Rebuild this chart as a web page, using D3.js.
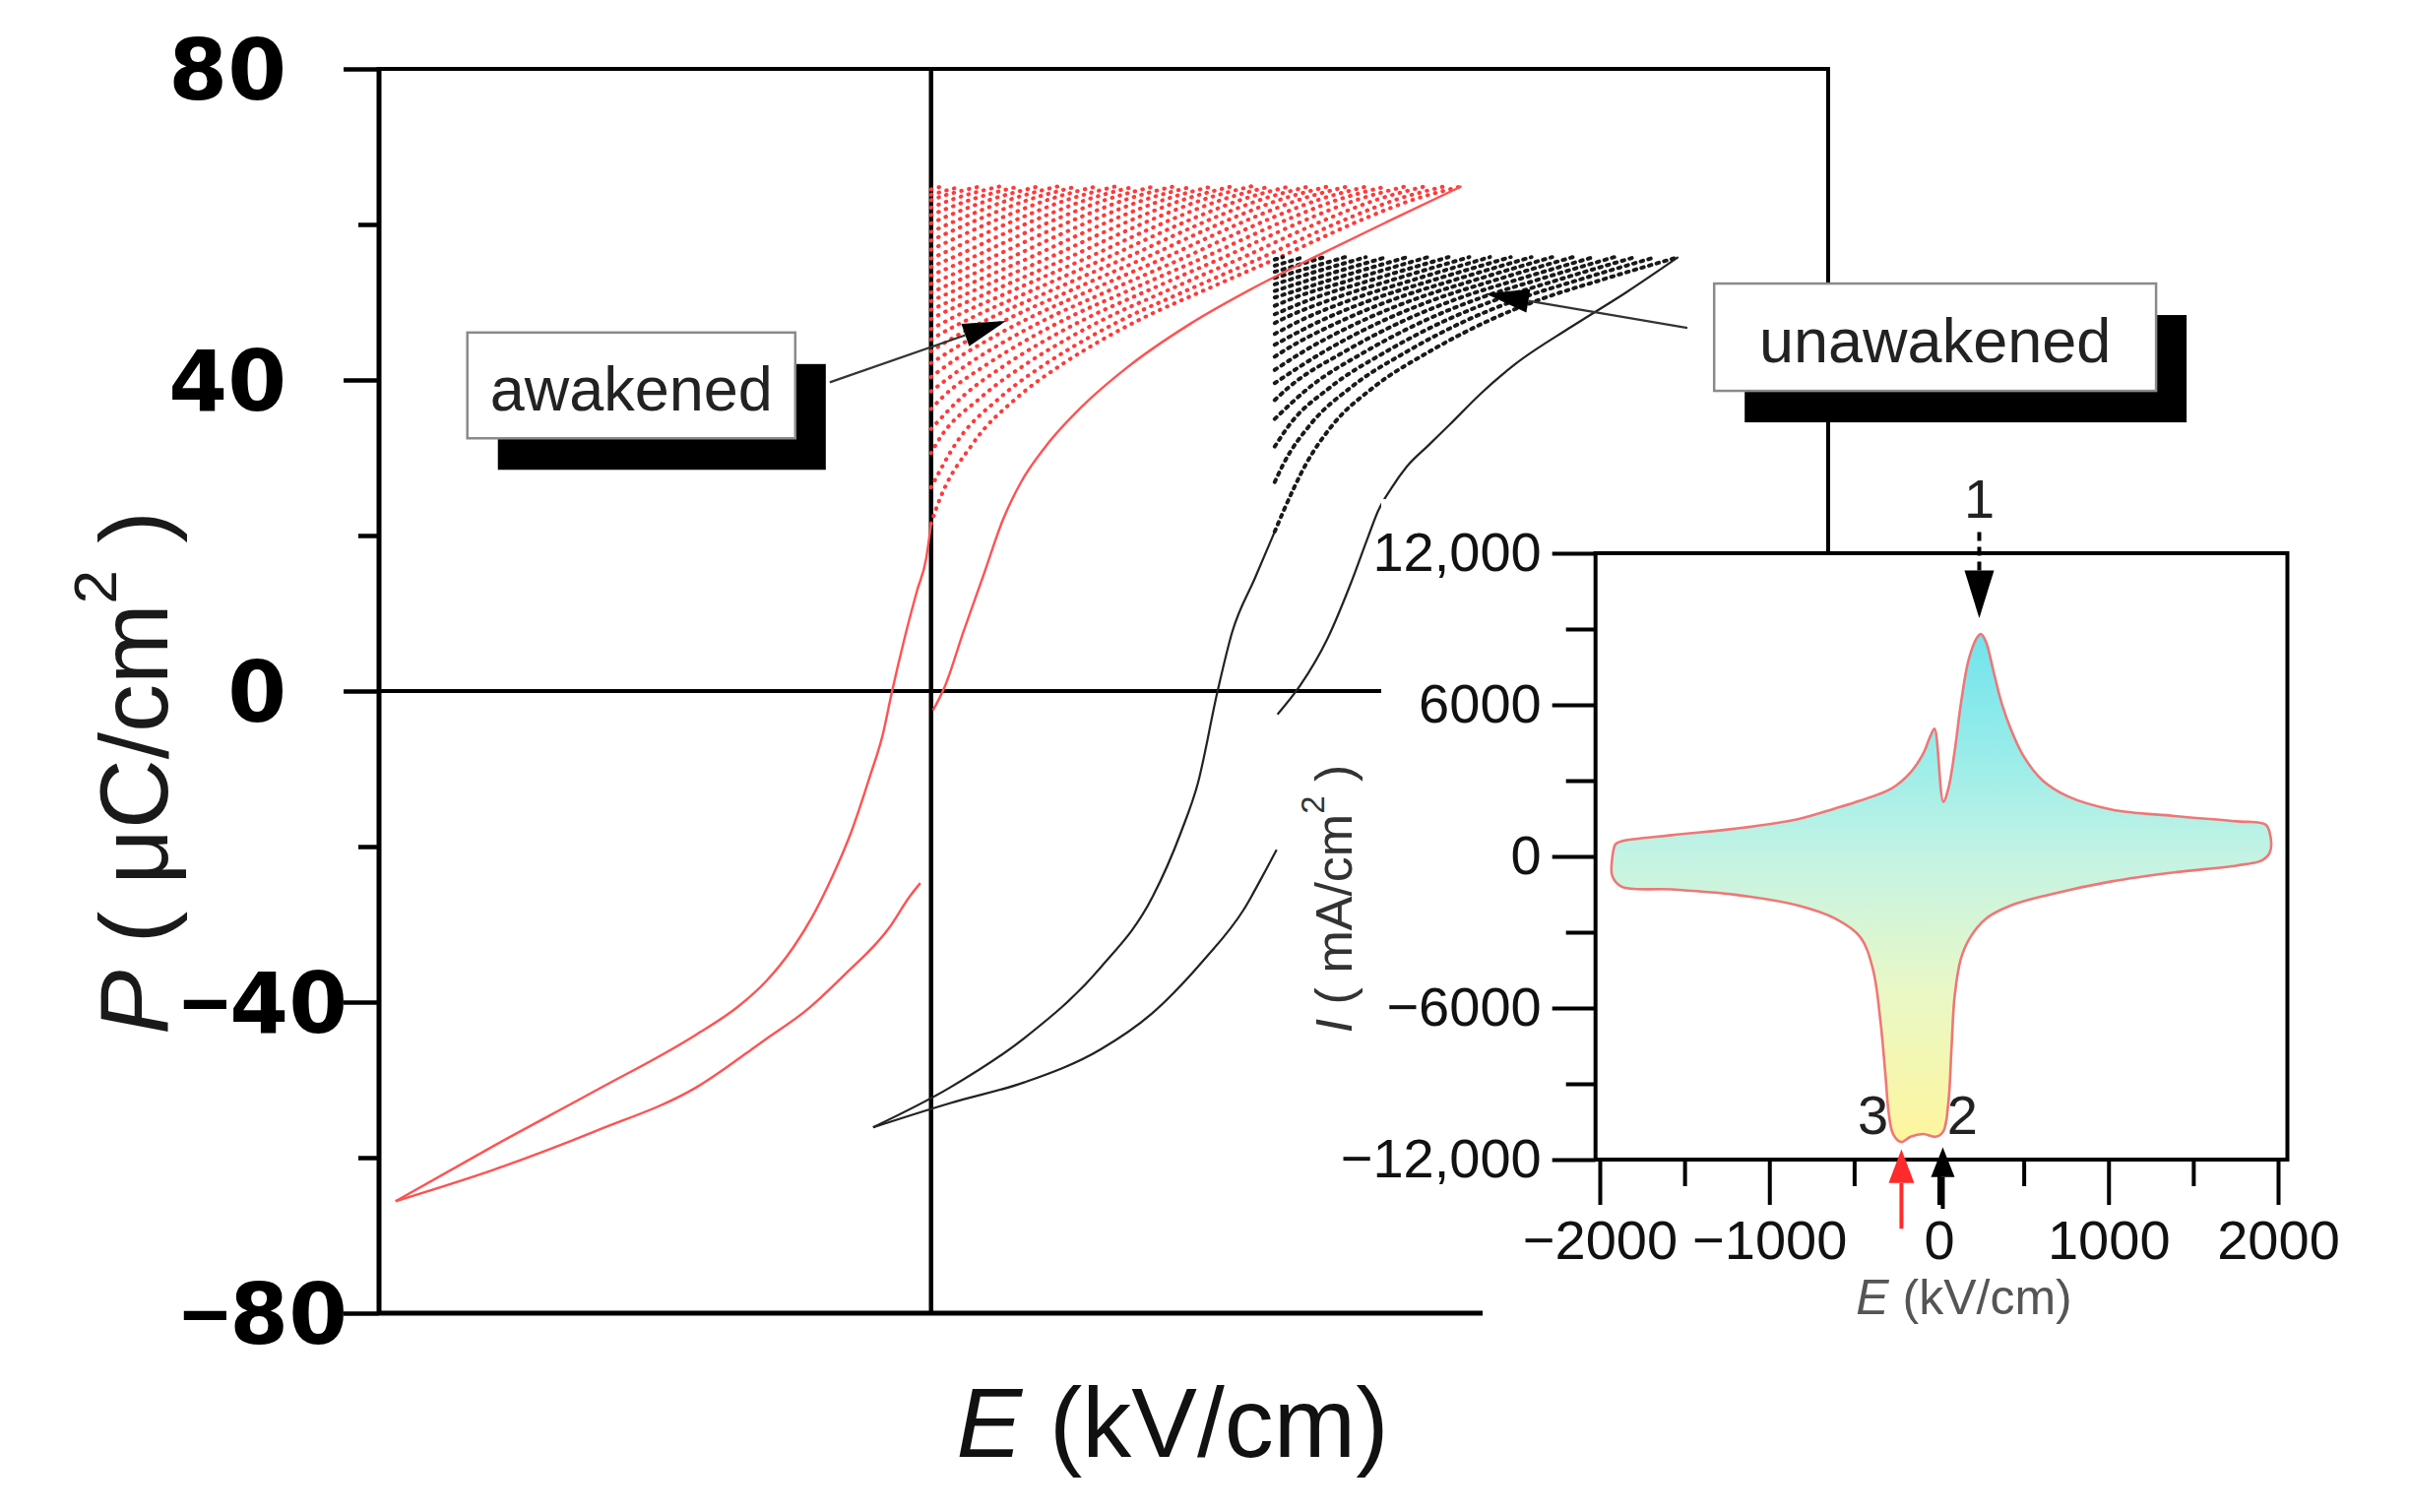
<!DOCTYPE html>
<html>
<head>
<meta charset="utf-8">
<script src="https://cdn.jsdelivr.net/npm/d3@7"></script>
<style>
  html, body { margin: 0; padding: 0; background: #fff; }
  svg { display: block; font-family: "Liberation Sans", Arial, sans-serif; }
</style>
</head>
<body>
<svg id="chart" width="2447" height="1536"></svg>
<script>
// ---- main P-E loops, [E (kV/cm), P (uC/cm2)] ----
const redRise = [[-1940, -65.6], [-1580, -58.4], [-1216, -51.4], [-852, -44.2], [-700, -40.6], [-600, -37.4],
  [-500, -33.0], [-430, -29.0], [-357, -23.8], [-289, -18.1], [-221, -10.9], [-175, -5.6], [-143, -0.3],
  [-96, 6.8], [-50, 13.0], [-18, 17.0], [0, 21.5]];
const redReturn = [[-1940, -65.6], [-1580, -61.5], [-1216, -56.6], [-852, -51.0], [-600, -44.8], [-450, -41.0],
  [-314, -36.5], [-153, -30.5], [-75, -26.3], [-39, -24.7]];
const redUpper = [[7, -2.5], [50, 0.6], [118, 7.7], [189, 14.8], [260, 22.0], [325, 26.8], [414, 31.4],
  [553, 36.8], [710, 41.6], [938, 47.2], [1166, 51.8], [1395, 55.9], [1650, 60.3], [1922, 64.9]];
const redEdge = [[0, 21.5], [18, 23.4], [153, 31.9], [314, 37.8], [474, 42.0], [631, 45.4], [792, 48.4],
  [949, 50.9], [1109, 53.4], [1270, 55.9], [1427, 58.5], [1587, 61.0], [1748, 63.2], [1922, 64.9]];
// E where each dotted red line meets the top of the fan
const redFanTops = [40, 110, 180, 250, 320, 390, 460, 530, 600, 670, 740, 810, 880, 950, 1020, 1090,
  1160, 1230, 1300, 1370, 1440, 1510, 1580, 1650, 1720, 1790, 1860];

const blackRise = [[-210, -56.1], [68, -51.0], [339, -44.6], [613, -35.6], [802, -26.5], [906, -18.1],
  [967, -11.8], [1038, 0], [1091, 7.6], [1173, 14.5], [1245, 20.5]];
const blackReturn = [[-210, -56.1], [68, -53.0], [339, -50.3], [613, -46.1], [799, -41.5], [988, -34.6],
  [1131, -28.2], [1213, -23.0], [1252, -20.4]];
const blackUpper = [[1255, -3.0], [1337, 0.7], [1437, 6.8], [1519, 13.7], [1584, 19.9], [1620, 23.2],
  [1666, 26.0], [1722, 28.8], [1802, 31.6], [1880, 34.3], [1990, 38.2], [2115, 42.0], [2318, 46.8],
  [2520, 51.3], [2707, 55.8]];
const blackEdge = [[1245, 20.5], [1275, 23.0], [1357, 29.1], [1459, 34.4], [1601, 39.0], [1808, 43.7],
  [2012, 47.5], [2218, 50.5], [2422, 52.8], [2707, 55.8]];
const blackFanTops = [1275, 1350, 1425, 1500, 1575, 1650, 1725, 1800, 1875, 1950, 2025, 2100, 2175,
  2250, 2325, 2400, 2475, 2550, 2625];

const pMajor = [-80, -40, 0, 40, 80];
const pMinor = [-60, -20, 20, 60];

// ---- inset I-E loop, [E (kV/cm), I (mA/cm2)] ----
const insetLoop = [[-1907, 484], [-1870, 600], [-1574, 842], [-1204, 1095], [-833, 1474], [-611, 1900],
  [-463, 2210], [-278, 2695], [-167, 3326], [-93, 4063], [-48, 4800], [-26, 5053], [26, 2168],
  [56, 2695], [93, 4168], [130, 6063], [174, 7747], [222, 8631], [248, 8800], [278, 8484], [322, 7326],
  [370, 6063], [426, 5010], [500, 3958], [611, 3010], [759, 2379], [1019, 1853], [1389, 1600],
  [1759, 1389], [1926, 1263], [1952, 905], [1952, 168], [1907, -147], [1759, -358], [1389, -632],
  [1019, -989], [648, -1516], [426, -1937], [278, -2463], [185, -3200], [130, -4042], [93, -5516],
  [74, -7621], [56, -9726], [26, -10884], [-19, -11095], [-93, -10989], [-167, -11095], [-222, -11305],
  [-270, -10989], [-296, -10147], [-315, -8674], [-344, -6568], [-389, -4463], [-463, -3200],
  [-611, -2463], [-833, -1937], [-1204, -1516], [-1574, -1305], [-1870, -1200], [-1926, -779], [-1926, -42]];
const iMajor = [-12000, -6000, 0, 6000, 12000];
const iMinor = [-9000, -3000, 3000, 9000];
const eMajor = [-2000, -1000, 0, 1000, 2000];
const eMinor = [-1500, -500, 500, 1500];

const svg = d3.select('#chart');
const x = d3.scaleLinear().domain([-2000, 3250]).range([385, 1857]);
const y = d3.scaleLinear().domain([-80, 80]).range([1334, 70]);
const xi = d3.scaleLinear().domain([-2000, 2000]).range([1625, 2314]);
const yi = d3.scaleLinear().domain([-12000, 12000]).range([1178, 562]);

const interp = (pts, e) => {
  const i = d3.bisector(d => d[0]).right(pts, e);
  if (i <= 0) return pts[0][1];
  if (i >= pts.length) return pts[pts.length - 1][1];
  const [e0, p0] = pts[i - 1], [e1, p1] = pts[i];
  return p0 + (p1 - p0) * (e - e0) / (e1 - e0);
};

/** a copy of the fan edge slid left so that its tip lands on topE, cut at the fan's left side */
const fanLine = (edge, topE) => {
  const leftE = edge[0][0];
  const s = edge[edge.length - 1][0] - topE;
  const pts = [[leftE, interp(edge, leftE + s)]];
  edge.forEach(([e, p]) => { if (e - s > leftE + 1) pts.push([e - s, p]); });
  return pts;
};

const line = d3.line().x(d => x(d[0])).y(d => y(d[1])).curve(d3.curveMonotoneX);

// ---- main frame ----
const frame = svg.append('g').attr('stroke', '#000');
frame.append('line').attr('x1', x(-2000)).attr('x2', x(-2000)).attr('y1', y(80) - 2).attr('y2', y(-80) + 2).attr('stroke-width', 5);
frame.append('line').attr('x1', x(-2000)).attr('x2', x(3250)).attr('y1', y(80)).attr('y2', y(80)).attr('stroke-width', 4);
frame.append('line').attr('x1', x(-2000)).attr('x2', x(3250)).attr('y1', y(-80)).attr('y2', y(-80)).attr('stroke-width', 5);
frame.append('line').attr('x1', x(0)).attr('x2', x(0)).attr('y1', y(80)).attr('y2', y(-80)).attr('stroke-width', 4.5);
frame.append('line').attr('x1', x(-2000)).attr('x2', x(3250)).attr('y1', y(0)).attr('y2', y(0)).attr('stroke-width', 4);

svg.append('g')
  .attr('transform', `translate(${x(-2000)},0)`)
  .call(d3.axisLeft(y).tickValues(pMinor).tickSize(21).tickFormat(''))
  .call(g => g.select('.domain').remove())
  .call(g => g.selectAll('line').attr('stroke-width', 4.5));

svg.append('g')
  .attr('transform', `translate(${x(-2000)},0)`)
  .call(d3.axisLeft(y).tickValues(pMajor).tickSize(36).tickFormat(d3.format('d')))
  .call(g => g.select('.domain').remove())
  .call(g => g.selectAll('line').attr('stroke-width', 4.5))
  .call(g => g.selectAll('text')
    .attr('x', d => d < 0 ? -32 : -94)
    .attr('dy', '0.36em')
    .attr('font-family', '"DejaVu Sans", sans-serif')
    .attr('font-weight', 'bold')
    .attr('font-size', 86)
    .attr('fill', '#000')
    .each(function (d) {
      // the figure's minus sign is narrower than DejaVu's
      const t = d3.select(this).text(null);
      if (d < 0) t.append('tspan').attr('font-family', '"Liberation Sans", Arial, sans-serif').text('\u2212');
      t.append('tspan').text(Math.abs(d));
    }));

// ---- dotted fans ----
const fans = svg.append('g').attr('fill', 'none').attr('stroke-linecap', 'round');
fans.selectAll('.red-fan')
  .data([redEdge, ...redFanTops.map(t => fanLine(redEdge, t))])
  .enter().append('path')
  .attr('d', line)
  .attr('stroke', '#ff3a3a')
  .attr('stroke-width', 4)
  .attr('stroke-dasharray', '0.6 7.4');
fans.selectAll('.black-fan')
  .data([blackEdge, ...blackFanTops.map(t => fanLine(blackEdge, t))])
  .enter().append('path')
  .attr('d', line)
  .attr('stroke', '#1a1a1a')
  .attr('stroke-width', 4)
  .attr('stroke-dasharray', '2.5 5.5');

// ---- solid loop branches ----
const loops = svg.append('g').attr('fill', 'none');
loops.selectAll('.red').data([redRise, redReturn, redUpper]).enter().append('path')
  .attr('d', line).attr('stroke', '#ff5252').attr('stroke-width', 2.4);
loops.selectAll('.black').data([blackRise, blackReturn, blackUpper]).enter().append('path')
  .attr('d', line).attr('stroke', '#222').attr('stroke-width', 2.2);

// ---- axis titles ----
const pTitle = svg.append('text')
  .attr('transform', 'translate(170,785) rotate(-90)')
  .attr('text-anchor', 'middle')
  .attr('font-size', 98)
  .attr('fill', '#1a1a1a');
pTitle.append('tspan').attr('font-style', 'italic').text('P');
pTitle.append('tspan').text(' ( \u03bcC/cm');
pTitle.append('tspan').attr('font-size', 62).attr('dy', -52).text('2');
pTitle.append('tspan').attr('dy', 52).text(' )');

const eTitle = svg.append('text')
  .attr('x', 1191).attr('y', 1480)
  .attr('text-anchor', 'middle')
  .attr('font-size', 100)
  .attr('fill', '#111');
eTitle.append('tspan').attr('font-style', 'italic').text('E');
eTitle.append('tspan').text(' (kV/cm)');

// ---- white backing of the inset ----
svg.append('path')
  .attr('d', 'M1403,507 H2447 V1400 H1506 V1320 H1403 Z')
  .attr('fill', '#fff');
svg.append('line')
  .attr('x1', x(3250)).attr('x2', x(3250)).attr('y1', y(80) - 2).attr('y2', yi(12000))
  .attr('stroke', '#000').attr('stroke-width', 4);

// ---- inset ----
const defs = svg.append('defs');
const grad = defs.append('linearGradient').attr('id', 'ifill')
  .attr('gradientUnits', 'userSpaceOnUse')
  .attr('x1', 0).attr('x2', 0).attr('y1', yi(9000)).attr('y2', yi(-11500));
[[0, '#6fe3ee'], [0.25, '#9aede9'], [0.44, '#c4f3e4'], [0.7, '#e9f8c6'], [1, '#fff59c']]
  .forEach(([o, c]) => grad.append('stop').attr('offset', o).attr('stop-color', c));

const iLine = d3.line().x(d => xi(d[0])).y(d => yi(d[1])).curve(d3.curveCatmullRomClosed.alpha(0.5));
svg.append('path')
  .datum(insetLoop)
  .attr('d', iLine)
  .attr('fill', 'url(#ifill)')
  .attr('stroke', '#ef7777')
  .attr('stroke-width', 2.6);

const fmtI = d => Math.abs(d) >= 10000 ? d3.format(',')(d) : d3.format('d')(d);
const insetText = g => g.selectAll('text')
  .attr('font-family', '"Liberation Sans", Arial, sans-serif')
  .attr('font-size', 56)
  .attr('fill', '#111');

const iLeft = xi(-2025), iRight = xi(2055);
svg.append('g').attr('transform', `translate(${iLeft},0)`)
  .call(d3.axisLeft(yi).tickValues(iMinor).tickSize(30).tickFormat(''))
  .call(g => g.select('.domain').remove())
  .call(g => g.selectAll('line').attr('stroke-width', 4));
svg.append('g').attr('transform', `translate(${iLeft},0)`)
  .call(d3.axisLeft(yi).tickValues(iMajor).tickSize(44).tickPadding(11).tickFormat(fmtI))
  .call(g => g.select('.domain').remove())
  .call(g => g.selectAll('line').attr('stroke-width', 4))
  .call(insetText);
svg.append('g').attr('transform', `translate(0,${yi(-12000)})`)
  .call(d3.axisBottom(xi).tickValues(eMinor).tickSize(27).tickFormat(''))
  .call(g => g.select('.domain').remove())
  .call(g => g.selectAll('line').attr('stroke-width', 4));
svg.append('g').attr('transform', `translate(0,${yi(-12000)})`)
  .call(d3.axisBottom(xi).tickValues(eMajor).tickSize(46).tickPadding(15).tickFormat(d3.format('d')))
  .call(g => g.select('.domain').remove())
  .call(g => g.selectAll('line').attr('stroke-width', 4))
  .call(insetText);

svg.append('rect')
  .attr('x', iLeft).attr('y', yi(12000))
  .attr('width', iRight - iLeft).attr('height', yi(-12000) - yi(12000))
  .attr('fill', 'none').attr('stroke', '#000').attr('stroke-width', 4);

const iTitleE = svg.append('text')
  .attr('x', 1995).attr('y', 1335)
  .attr('text-anchor', 'middle').attr('font-size', 50).attr('fill', '#555');
iTitleE.append('tspan').attr('font-style', 'italic').text('E');
iTitleE.append('tspan').text(' (kV/cm)');

const iTitleI = svg.append('text')
  .attr('transform', 'translate(1373,913) rotate(-90)')
  .attr('text-anchor', 'middle').attr('font-size', 52).attr('fill', '#333');
iTitleI.append('tspan').attr('font-style', 'italic').text('I');
iTitleI.append('tspan').text(' ( mA/cm');
iTitleI.append('tspan').attr('font-size', 33).attr('dy', -28).text('2');
iTitleI.append('tspan').attr('dy', 28).text(' )');

// ---- inset arrows 1, 2, 3 ----
const markers = [
  { label: '1', e: 238, labelI: 13400, tipI: 9430, baseI: 11316, tailI: 12888, half: 15, color: '#000', dashed: true },
  { label: '2', e: 23, labelE: 139, labelI: -11002, tipI: -11513, baseI: -12692, tailI: -13950, half: 12, color: '#000' },
  { label: '3', e: -221, labelE: -389, labelI: -11002, tipI: -11592, baseI: -12928, tailI: -14735, half: 13, color: '#ff2a2a' },
];
const mk = svg.append('g');
markers.forEach(m => {
  mk.append('line')
    .attr('x1', xi(m.e)).attr('x2', xi(m.e))
    .attr('y1', yi(m.baseI)).attr('y2', yi(m.tailI))
    .attr('stroke', m.color).attr('stroke-width', 4)
    .attr('stroke-dasharray', m.dashed ? '9 6' : null);
  mk.append('path')
    .attr('d', `M${xi(m.e)},${yi(m.tipI)} L${xi(m.e) - m.half},${yi(m.baseI)} L${xi(m.e) + m.half},${yi(m.baseI)} Z`)
    .attr('fill', m.color);
  mk.append('text')
    .attr('x', xi(m.labelE === undefined ? m.e : m.labelE))
    .attr('y', yi(m.labelI))
    .attr('text-anchor', 'middle')
    .attr('font-size', 56).attr('fill', '#222')
    .text(m.label);
});

// ---- callout boxes in the main plot (data units) ----
const callouts = [
  { text: 'awakened', e0: -1680, e1: -492, p0: 46.1, p1: 32.5, baseP: 36.1,
    from: [-367, 39.7], to: [272, 47.6] },
  { text: 'unawakened', e0: 2837, e1: 4438, p0: 52.4, p1: 38.6, baseP: 42.3,
    from: [2740, 46.7], to: [2009, 51.1] },
];
const co = svg.append('g');
callouts.forEach(c => {
  const bx = x(c.e0), by = y(c.p0), bw = x(c.e1) - x(c.e0), bh = y(c.p1) - y(c.p0);
  co.append('rect').attr('x', bx + 31).attr('y', by + 32).attr('width', bw).attr('height', bh).attr('fill', '#000');
  co.append('rect').attr('x', bx).attr('y', by).attr('width', bw).attr('height', bh)
    .attr('fill', '#fff').attr('stroke', '#8a8a8a').attr('stroke-width', 2.5);
  co.append('text')
    .attr('x', bx + bw / 2).attr('y', y(c.baseP))
    .attr('text-anchor', 'middle').attr('font-size', 63).attr('fill', '#222')
    .text(c.text);

  const [fx, fy] = [x(c.from[0]), y(c.from[1])];
  const [tx, ty] = [x(c.to[0]), y(c.to[1])];
  const ang = Math.atan2(ty - fy, tx - fx);
  const len = 44, half = 12;
  const bxp = tx - len * Math.cos(ang), byp = ty - len * Math.sin(ang);
  co.append('line').attr('x1', fx).attr('y1', fy).attr('x2', bxp).attr('y2', byp)
    .attr('stroke', '#333').attr('stroke-width', 2.2);
  co.append('path')
    .attr('d', `M${tx},${ty} L${bxp - half * Math.sin(ang)},${byp + half * Math.cos(ang)} L${bxp + half * Math.sin(ang)},${byp - half * Math.cos(ang)} Z`)
    .attr('fill', '#000');
});
</script>
</body>
</html>
